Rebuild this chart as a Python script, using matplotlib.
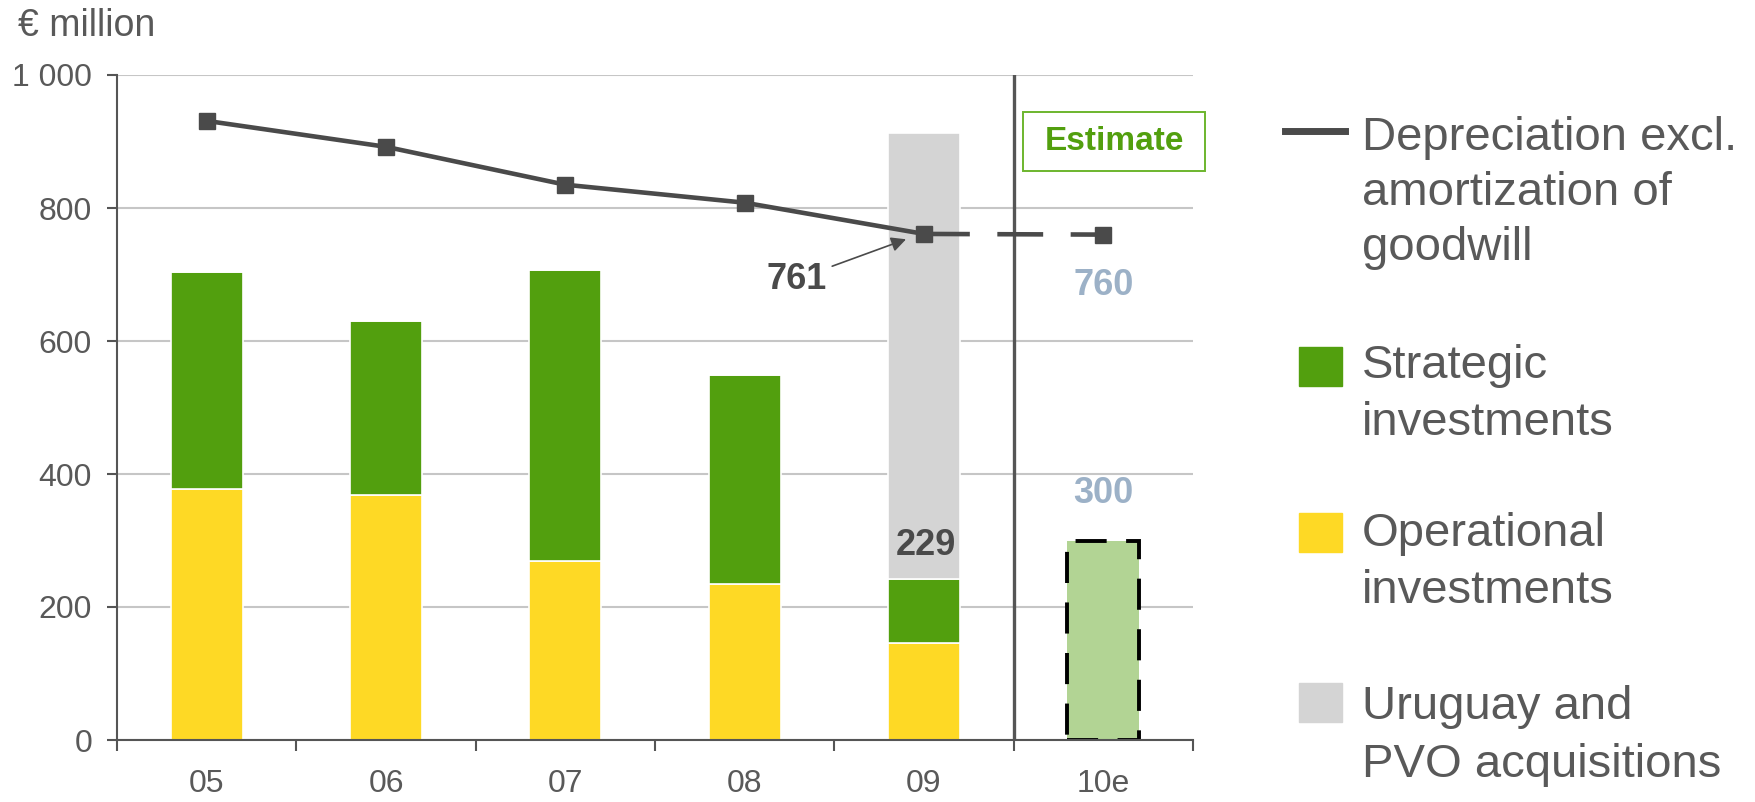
import numpy as np
import matplotlib.pyplot as plt
from matplotlib.patches import Rectangle
from matplotlib.lines import Line2D

plt.rcParams['font.family'] = ['Liberation Sans', 'DejaVu Sans']

# data (EUR million)
years = ['05', '06', '07', '08', '09', '10e']
operational = [377, 369, 269, 234, 146]
strategic = [327, 261, 438, 315, 96]
acquisitions = [0, 0, 0, 0, 671]
estimate_capex = [300]
depreciation = [931, 892, 835, 808, 761, 760]

green = '#529f0e'
yellow = '#fed925'
grey = '#d4d4d4'
light_green = '#b2d494'
dark = '#4a4a4a'
txt = '#595959'
blue_grey = '#9cb1c7'

W, H = 1755, 802
fig = plt.figure(figsize=(W / 100, H / 100), dpi=100)
ax = fig.add_axes([117 / W, 1 - 740 / H, (1193 - 117) / W, (740 - 75) / H])

x = np.arange(len(years))
bw = 0.40
hist = x[:5]
ax.bar(hist, operational, bw, color=yellow, edgecolor='white', linewidth=1.2, zorder=2)
bottom2 = np.array(operational)
ax.bar(hist, strategic, bw, bottom=bottom2, color=green, edgecolor='white', linewidth=1.2, zorder=2)
bottom3 = bottom2 + np.array(strategic)
ax.bar(hist, acquisitions, bw, bottom=bottom3, color=grey, edgecolor='white', linewidth=1.2, zorder=2)
ax.bar(x[5:], estimate_capex, bw, color=light_green, edgecolor='black', linewidth=2.8,
       linestyle=(0, (8, 5)), zorder=2)

# depreciation line
ax.plot(x[:5], depreciation[:5], color=dark, lw=3.3, marker='s', ms=11, zorder=4)
ax.plot(x[4:], depreciation[4:], color=dark, lw=3.3, dashes=(10, 6), zorder=4)
ax.plot(x[5:], depreciation[5:], color=dark, marker='s', ms=11, ls='none', zorder=4)

# separator between actuals and estimate
ax.axvline(4.5, color='#555555', lw=2.4, zorder=3)

ax.set_xlim(-0.5, 5.5)
ax.set_ylim(0, 1000)
ax.set_yticks(range(0, 1001, 200))
ax.set_yticklabels(['0', '200', '400', '600', '800', '1 000'])
ax.set_xticks(x)
ax.set_xticklabels(years)
ax.set_xticks(np.arange(-0.5, 6, 1), minor=True)
ax.yaxis.grid(True, color='#c6c6c6', lw=1.5, zorder=0)
ax.set_axisbelow(True)
for s in ['top', 'right']:
    ax.spines[s].set_visible(False)
for s in ['left', 'bottom']:
    ax.spines[s].set_color('#555555')
    ax.spines[s].set_linewidth(1.5)
ax.tick_params(axis='y', length=7, width=1.5, color='#555555', pad=11, labelsize=23, labelcolor=txt)
ax.tick_params(axis='x', which='major', length=0, pad=21, labelsize=23, labelcolor=txt)
ax.tick_params(axis='x', which='minor', length=8, width=1.5, color='#555555')

# value labels
ax.annotate('761', xy=(3.9, 753), xytext=(3.29, 693), ha='center', va='center',
            fontsize=26, fontweight='bold', color=dark,
            arrowprops=dict(arrowstyle='-|>', color=dark, lw=1.2, mutation_scale=22,
                            shrinkA=2, shrinkB=0))
ax.text(4.01, 293, '229', ha='center', va='center', fontsize=26, fontweight='bold', color=dark, zorder=5)
ax.text(5, 684, '760', ha='center', va='center', fontsize=26, fontweight='bold', color=blue_grey)
ax.text(5, 370, '300', ha='center', va='center', fontsize=26, fontweight='bold', color=blue_grey)


def fx(px):
    return px / W


def fy(py):
    return 1 - py / H


# "Estimate" box
fig.add_artist(Rectangle((fx(1023), fy(171)), (1205 - 1023) / W, (171 - 112) / H,
                         fill=False, edgecolor='#6cb52d', lw=1.4, transform=fig.transFigure))
fig.text(fx(1114), fy(142), 'Estimate', ha='center', va='center', fontsize=24,
         fontweight='bold', color=green)

fig.text(fx(18), fy(26), '€ million', ha='left', va='center', fontsize=27, color=txt)

# legend
fig.add_artist(Line2D([fx(1285), fx(1345)], [fy(131), fy(131)], color=dark, lw=5,
                      transform=fig.transFigure))
for (y0, y1), col in zip([(347, 386), (513, 552), (683, 722)], [green, yellow, grey]):
    fig.add_artist(Rectangle((fx(1299), fy(y1)), 43 / W, (y1 - y0) / H, color=col,
                             transform=fig.transFigure))
legend_lines = [
    (138, 'Depreciation excl.'), (193, 'amortization of'), (248, 'goodwill'),
    (366, 'Strategic'), (423, 'investments'),
    (534, 'Operational'), (591, 'investments'),
    (707, 'Uruguay and'), (765, 'PVO acquisitions'),
]
for py, s in legend_lines:
    fig.text(fx(1362), fy(py), s, ha='left', va='center', fontsize=34, color=txt)

fig.savefig('out.png', dpi=100)
